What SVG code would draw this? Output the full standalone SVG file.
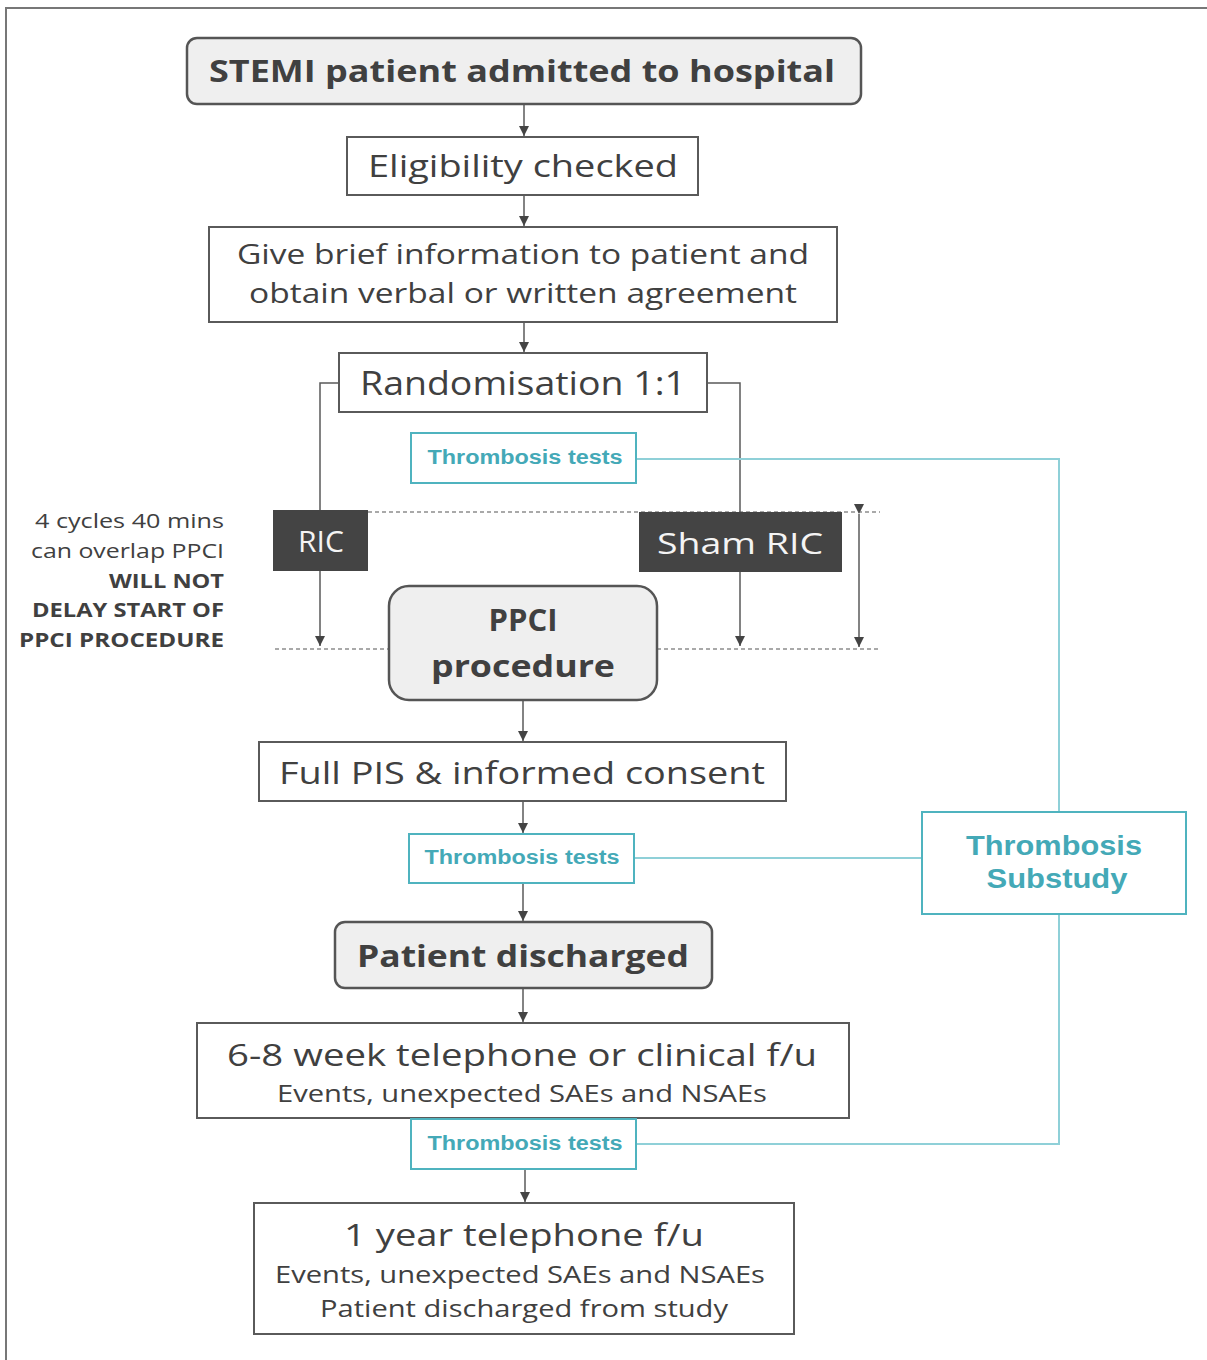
<svg xmlns="http://www.w3.org/2000/svg" width="1207" height="1360" viewBox="0 0 1207 1360">
<style>
.box{fill:#fff;stroke:#5a5a5a;stroke-width:2}
.rbox{fill:#efefef;stroke:#555;stroke-width:2.5}
.dark{fill:#444;stroke:none}
.tbox{fill:#fff;stroke:#4fb3bf;stroke-width:2}
.t{font-family:"Open Sans","Noto Sans","Liberation Sans",sans-serif;fill:#404040;text-anchor:middle}
.b{font-weight:bold}
.teal{font-family:"Liberation Sans",Arial,sans-serif;font-weight:bold;fill:#44a9b7;text-anchor:middle}
.side{font-family:"Open Sans","Noto Sans",sans-serif;fill:#404040;text-anchor:end;font-size:20px}
.ln{stroke:#5a5a5a;stroke-width:1.5;fill:none}
.tl{stroke:#8fd0d8;stroke-width:2;fill:none}
.dash{stroke:#555;stroke-width:1.2;stroke-dasharray:4 3;fill:none}
</style>
<defs>
<marker id="ah" viewBox="0 0 10 10" refX="10" refY="5" markerWidth="10" markerHeight="10" markerUnits="userSpaceOnUse" orient="auto">
<path d="M0,0 L10,5 L0,10 z" fill="#444"/>
</marker>
</defs>
<path d="M6,1360 V8 H1207" fill="none" stroke="#777" stroke-width="2"/>

<g id="connectors">
<line class="ln" x1="524" y1="104" x2="524" y2="136" marker-end="url(#ah)"/>
<line class="ln" x1="524" y1="195" x2="524" y2="226" marker-end="url(#ah)"/>
<line class="ln" x1="524" y1="322" x2="524" y2="352" marker-end="url(#ah)"/>
<polyline class="ln" points="339,383 320,383 320,646" marker-end="url(#ah)"/>
<polyline class="ln" points="707,383 740,383 740,646" marker-end="url(#ah)"/>
<line class="ln" x1="859" y1="514" x2="859" y2="647" marker-start="url(#ah)" marker-end="url(#ah)"/>
<line class="dash" x1="368" y1="512" x2="880" y2="512"/>
<line class="dash" x1="275" y1="649" x2="389" y2="649"/>
<line class="dash" x1="657" y1="649" x2="880" y2="649"/>
<line class="ln" x1="523" y1="700" x2="523" y2="741" marker-end="url(#ah)"/>
<line class="ln" x1="523" y1="801" x2="523" y2="833" marker-end="url(#ah)"/>
<line class="ln" x1="523" y1="883" x2="523" y2="921" marker-end="url(#ah)"/>
<line class="ln" x1="523" y1="988" x2="523" y2="1022" marker-end="url(#ah)"/>
<line class="ln" x1="525" y1="1169" x2="525" y2="1202" marker-end="url(#ah)"/>
<polyline class="tl" points="636,459 1059,459 1059,812"/>
<line class="tl" x1="634" y1="858" x2="922" y2="858"/>
<polyline class="tl" points="1059,914 1059,1144 636,1144"/>
</g>

<g id="n-stemi">
<rect class="rbox" x="187" y="38" width="674" height="66" rx="10"/>
<text class="t b" x="522" y="82" font-size="31" textLength="626" lengthAdjust="spacingAndGlyphs">STEMI patient admitted to hospital</text>
</g>
<g id="n-elig">
<rect class="box" x="347" y="137" width="351" height="58"/>
<text class="t" x="523" y="177" font-size="31" textLength="310" lengthAdjust="spacingAndGlyphs">Eligibility checked</text>
</g>
<g id="n-info">
<rect class="box" x="209" y="227" width="628" height="95"/>
<text class="t" x="523" y="264" font-size="27" textLength="572" lengthAdjust="spacingAndGlyphs">Give brief information to patient and</text>
<text class="t" x="523" y="303" font-size="27" textLength="548" lengthAdjust="spacingAndGlyphs">obtain verbal or written agreement</text>
</g>
<g id="n-rand">
<rect class="box" x="339" y="353" width="368" height="59"/>
<text class="t" x="523" y="395" font-size="32" textLength="326" lengthAdjust="spacingAndGlyphs">Randomisation 1:1</text>
</g>
<g id="n-tt1">
<rect class="tbox" x="411" y="433" width="225" height="50"/>
<text class="teal" x="525" y="464" font-size="20" textLength="195" lengthAdjust="spacingAndGlyphs">Thrombosis tests</text>
</g>
<g id="n-ric">
<rect class="dark" x="273" y="510" width="95" height="61"/>
<text class="t" x="321" y="552" font-size="30" style="fill:#f4f4f4">RIC</text>
</g>
<g id="n-sham">
<rect class="dark" x="639" y="512" width="203" height="60"/>
<text class="t" x="740" y="554" font-size="30" style="fill:#f4f4f4" textLength="166" lengthAdjust="spacingAndGlyphs">Sham RIC</text>
</g>
<g id="n-side">
<text class="side" x="224" y="528" textLength="189" lengthAdjust="spacingAndGlyphs">4 cycles 40 mins</text>
<text class="side" x="224" y="558" textLength="193" lengthAdjust="spacingAndGlyphs">can overlap PPCI</text>
<text class="side b" x="224" y="588" textLength="115" lengthAdjust="spacingAndGlyphs">WILL NOT</text>
<text class="side b" x="224" y="617" textLength="192" lengthAdjust="spacingAndGlyphs">DELAY START OF</text>
<text class="side b" x="224" y="647" textLength="205" lengthAdjust="spacingAndGlyphs">PPCI PROCEDURE</text>
</g>
<g id="n-ppci">
<rect class="rbox" x="389" y="586" width="268" height="114" rx="20"/>
<text class="t b" x="523" y="631" font-size="31">PPCI</text>
<text class="t b" x="523" y="677" font-size="31" textLength="184" lengthAdjust="spacingAndGlyphs">procedure</text>
</g>
<g id="n-pis">
<rect class="box" x="259" y="742" width="527" height="59"/>
<text class="t" x="522" y="784" font-size="31" textLength="486" lengthAdjust="spacingAndGlyphs">Full PIS &amp; informed consent</text>
</g>
<g id="n-tt2">
<rect class="tbox" x="409" y="834" width="225" height="49"/>
<text class="teal" x="522" y="864" font-size="20" textLength="195" lengthAdjust="spacingAndGlyphs">Thrombosis tests</text>
</g>
<g id="n-sub">
<rect class="tbox" x="922" y="812" width="264" height="102"/>
<text class="teal" x="1054" y="855" font-size="27" textLength="176" lengthAdjust="spacingAndGlyphs">Thrombosis</text>
<text class="teal" x="1057" y="888" font-size="27" textLength="141" lengthAdjust="spacingAndGlyphs">Substudy</text>
</g>
<g id="n-disch">
<rect class="rbox" x="335" y="922" width="377" height="66" rx="10"/>
<text class="t b" x="523" y="967" font-size="31" textLength="332" lengthAdjust="spacingAndGlyphs">Patient discharged</text>
</g>
<g id="n-fu1">
<rect class="box" x="197" y="1023" width="652" height="95"/>
<text class="t" x="522" y="1066" font-size="31" textLength="590" lengthAdjust="spacingAndGlyphs">6-8 week telephone or clinical f/u</text>
<text class="t" x="522" y="1102" font-size="23" textLength="490" lengthAdjust="spacingAndGlyphs">Events, unexpected SAEs and NSAEs</text>
</g>
<g id="n-tt3">
<rect class="tbox" x="411" y="1119" width="225" height="50"/>
<text class="teal" x="525" y="1150" font-size="20" textLength="195" lengthAdjust="spacingAndGlyphs">Thrombosis tests</text>
</g>
<g id="n-fu2">
<rect class="box" x="254" y="1203" width="540" height="131"/>
<text class="t" x="524" y="1246" font-size="31" textLength="360" lengthAdjust="spacingAndGlyphs">1 year telephone f/u</text>
<text class="t" x="520" y="1283" font-size="23" textLength="490" lengthAdjust="spacingAndGlyphs">Events, unexpected SAEs and NSAEs</text>
<text class="t" x="524" y="1317" font-size="23" textLength="408" lengthAdjust="spacingAndGlyphs">Patient discharged from study</text>
</g>
</svg>
